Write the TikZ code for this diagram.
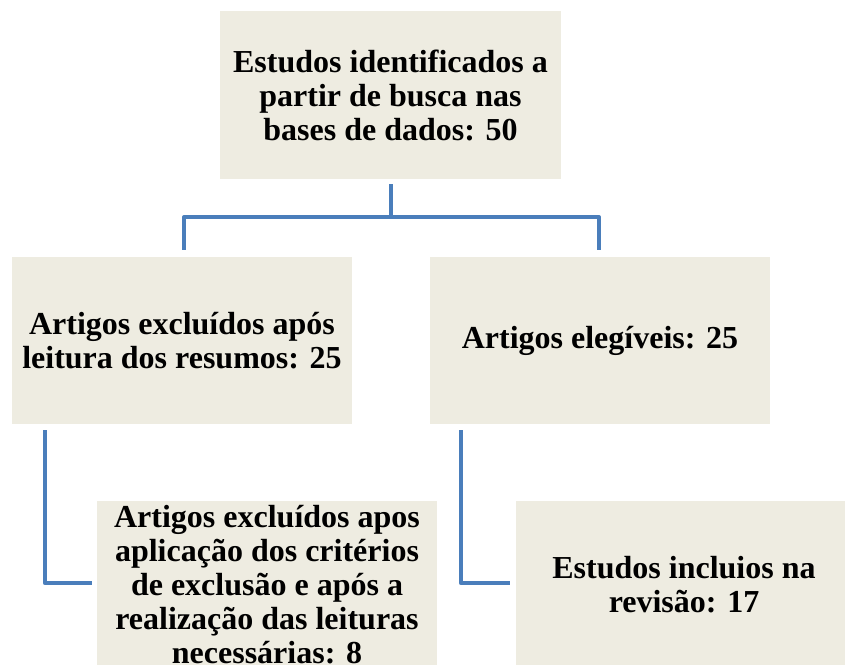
\documentclass[tikz,border=0pt]{standalone}
\usepackage{fontspec}
\setmainfont{Liberation Serif}
\usetikzlibrary{calc}
\definecolor{boxfill}{HTML}{EEECE1}
\definecolor{linkblue}{HTML}{4A7EBB}
\tikzset{
  flowbox/.style={fill=boxfill, draw=none, inner sep=0pt, align=center,
    minimum width=340pt, minimum height=168pt,
    font=\fontsize{32}{34}\selectfont\bfseries},
  link/.style={draw=linkblue, line width=4pt, line join=round}
}
\begin{document}
\begin{tikzpicture}[x=1pt,y=-1pt]
\useasboundingbox (0,0) rectangle (845,664);
\clip (0,0) rectangle (845,664);
\node[flowbox, minimum width=341pt] (top) at (390.5,95) {Estudos identificados a\\partir de busca nas\\bases de dados: 50};
\node[flowbox, minimum height=167pt] (lm) at (182,340.5) {Artigos excluídos após\\leitura dos resumos: 25};
\node[flowbox, minimum height=167pt] (rm) at (600,340.5) {Artigos elegíveis: 25};
\node[flowbox] (bl) at (267,585) {Artigos excluídos apos\\aplicação dos critérios\\de exclusão e após a\\realização das leituras\\necessárias: 8};
\node[flowbox, minimum width=336pt] (br) at (684,585) {Estudos incluios na\\revisão: 17};
\draw[link] ($(top.south)+(0.5,5)$) -- ++(0,33) coordinate (j);
\draw[link] ($(lm.north)+(2,-7)$) |- (j) -| ($(rm.north)+(-1,-7)$);
\draw[link] ($(lm.south west)+(33,6)$) |- ($(bl.west)+(-5,-2)$);
\draw[link] ($(rm.south west)+(31,6)$) |- ($(br.west)+(-6,-2)$);
\end{tikzpicture}
\end{document}
